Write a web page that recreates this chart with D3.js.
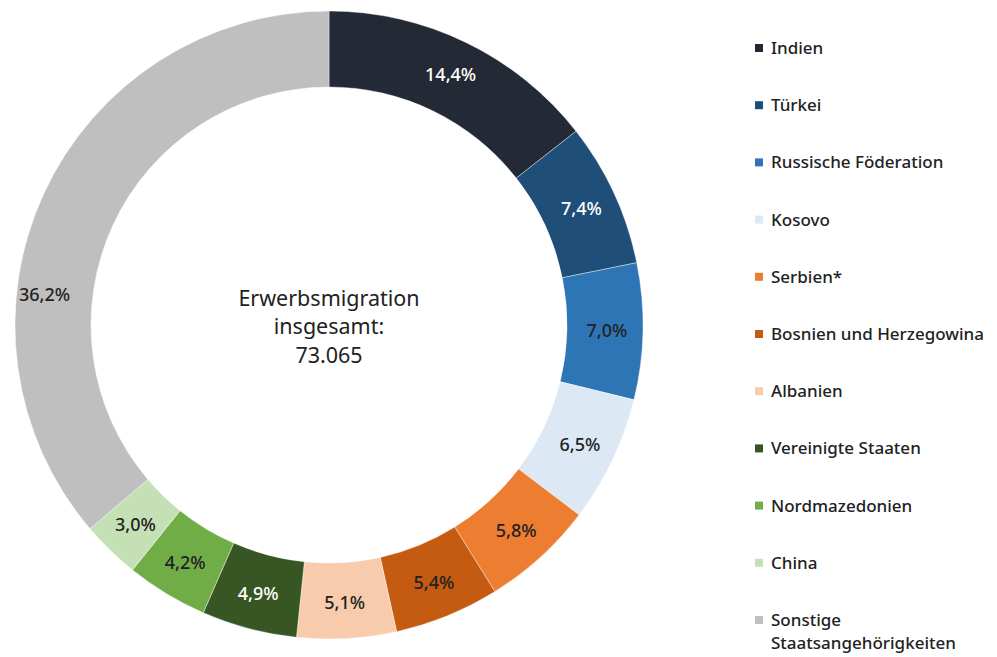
<!DOCTYPE html>
<html>
<head>
<meta charset="utf-8">
<script src="https://cdn.jsdelivr.net/npm/d3@7"></script>
<style>
  body { margin: 0; background: #fff; }
  text { font-family: "Noto Sans", "Open Sans", sans-serif; }
</style>
</head>
<body>
<div id="chart"></div>
<script>
// data
const countries = ["Indien", "Türkei", "Russische Föderation", "Kosovo", "Serbien*",
  "Bosnien und Herzegowina", "Albanien", "Vereinigte Staaten", "Nordmazedonien", "China",
  "Sonstige Staatsangehörigkeiten"];
const shares = [14.4, 7.4, 7.0, 6.5, 5.8, 5.4, 5.1, 4.9, 4.2, 3.0, 36.2];
const colors = ["#232a35", "#1f4e79", "#2e75b6", "#dde8f5", "#ed7d31", "#c55a11",
  "#f8cbad", "#375623", "#70ad47", "#c5e0b4", "#bfbfbf"];
const labelColors = ["#fff", "#fff", "#222", "#222", "#222", "#222", "#222", "#fff", "#222", "#222", "#222"];
const centerLines = ["Erwerbsmigration", "insgesamt:", "73.065"];

const svgWidth = 997;
const svgHeight = 657;
const cx = 329, cy = 325;
const outerR = 314, innerR = 238;

const svg = d3.select("#chart")
  .append("svg")
  .attr("width", svgWidth)
  .attr("height", svgHeight);

const data = countries.map((c, i) => ({ name: c, value: shares[i], color: colors[i], lc: labelColors[i] }));

const pie = d3.pie().value(d => d.value).sort(null);
const arc = d3.arc().innerRadius(innerR).outerRadius(outerR);
const labelArc = d3.arc().innerRadius(innerR + 2).outerRadius(outerR + 2);

const g = svg.append("g").attr("transform", `translate(${cx}, ${cy})`);
const arcs = pie(data);

g.selectAll("path.slice")
  .data(arcs)
  .enter().append("path")
  .attr("class", "slice")
  .attr("d", arc)
  .attr("fill", d => d.data.color)
  .attr("stroke", "#fff")
  .attr("stroke-width", 0.4);

const fmt = v => v.toFixed(1).replace(".", ",") + "%";

g.selectAll("text.pct")
  .data(arcs)
  .enter().append("text")
  .attr("class", "pct")
  .attr("transform", (d, i) => {
    let p = labelArc.centroid(d);
    // the big "Sonstige" label sits further down the ring, like in the original
    if (i === arcs.length - 1) {
      const a = 1.5 * Math.PI + 0.105;
      p = [Math.sin(a) * 286, -Math.cos(a) * 286];
    }
    return `translate(${p[0]}, ${p[1]})`;
  })
  .attr("text-anchor", "middle")
  .attr("dy", "0.35em")
  .attr("font-size", 18)
  .attr("font-weight", 500)
  .attr("fill", d => d.data.lc)
  .text(d => fmt(d.data.value));

// center text
g.selectAll("text.center")
  .data(centerLines)
  .enter().append("text")
  .attr("class", "center")
  .attr("text-anchor", "middle")
  .attr("y", (d, i) => -27 + i * 28.5)
  .attr("dy", "0.35em")
  .attr("font-size", 21.5)
  .attr("fill", "#222")
  .text(d => d);

// legend
const legend = svg.append("g").attr("transform", "translate(755, 48)");
const rowH = 57.2;
const item = legend.selectAll("g.item")
  .data(data)
  .enter().append("g")
  .attr("class", "item")
  .attr("transform", (d, i) => `translate(0, ${i * rowH})`);

item.append("rect")
  .attr("x", 0)
  .attr("y", -4)
  .attr("width", 8)
  .attr("height", 8)
  .attr("fill", d => d.color);

// long name wraps onto two lines
item.each(function(d) {
  const lines = d.name === "Sonstige Staatsangehörigkeiten" ? ["Sonstige", "Staatsangehörigkeiten"] : [d.name];
  d3.select(this).selectAll("text")
    .data(lines)
    .enter().append("text")
    .attr("x", 16)
    .attr("y", (w, j) => j * 23)
    .attr("dy", "0.35em")
    .attr("font-size", 17)
    .attr("font-weight", 500)
    .attr("fill", "#222")
    .text(w => w);
});
</script>
</body>
</html>
